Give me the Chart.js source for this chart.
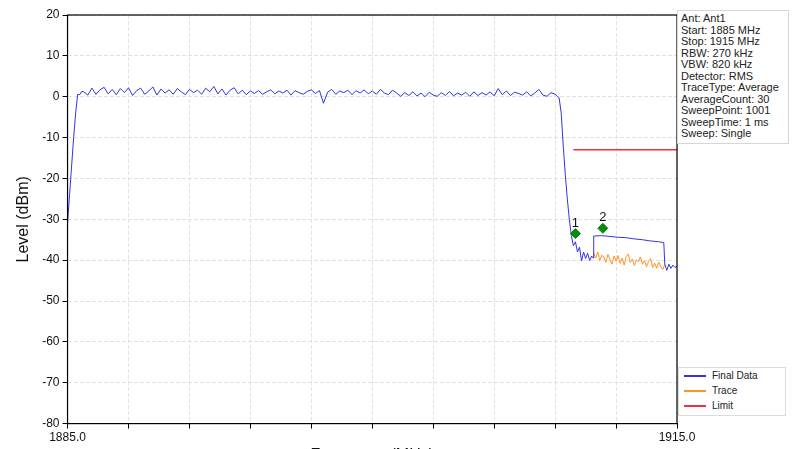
<!DOCTYPE html>
<html>
<head>
<meta charset="utf-8">
<script src="https://cdn.jsdelivr.net/npm/chart.js@4.4.0/dist/chart.umd.min.js"></script>
<style>
  html, body { margin: 0; padding: 0; background: #fff; overflow: hidden; }
  #wrap { position: relative; width: 793px; height: 468px; }
  #info {
    position: absolute; left: 677px; top: 10px; width: 112px;
    border: 1px solid #d6d6d6; background: #fff;
    font: 11px "Liberation Sans", Arial, sans-serif; line-height: 11.5px;
    color: #222; padding: 2px 0 3px 3px; box-sizing: border-box;
  }
  #legend {
    position: absolute; left: 678px; top: 367px; width: 108px; height: 49px;
    border: 1px solid #dcdcdc; background: #fff; box-sizing: border-box;
    font: 10px "Liberation Sans", Arial, sans-serif; color: #222;
  }
  #legend div { position: relative; height: 15px; line-height: 15px; padding-left: 33px; }
  #legend span { position: absolute; left: 5px; top: 7px; width: 22px; height: 2px; }
</style>
</head>
<body>
<div id="wrap">
  <canvas id="graphique" width="793" height="468"></canvas>
  <div id="info"></div>
  <div id="legend"></div>
</div>
<script>
// Données
const infoLines = [
  'Ant: Ant1', 'Start: 1885 MHz', 'Stop: 1915 MHz', 'RBW: 270 kHz', 'VBW: 820 kHz',
  'Detector: RMS', 'TraceType: Average', 'AverageCount: 30', 'SweepPoint: 1001',
  'SweepTime: 1 ms', 'Sweep: Single'
];

const finalFreq = [
  1885.0, 1885.1, 1885.2, 1885.3, 1885.4, 1885.5, 1885.6, 1885.7,
  1885.8, 1886.0, 1886.2, 1886.4, 1886.6, 1886.8, 1887.0, 1887.2, 1887.4, 1887.6,
  1887.8, 1888.0, 1888.2, 1888.4, 1888.6, 1888.8, 1889.0, 1889.2, 1889.4, 1889.6,
  1889.8, 1890.0, 1890.2, 1890.4, 1890.6, 1890.8, 1891.0, 1891.2, 1891.4, 1891.6,
  1891.8, 1892.0, 1892.2, 1892.4, 1892.6, 1892.8, 1893.0,
  1893.2, 1893.4, 1893.6, 1893.8, 1894.0, 1894.2, 1894.4, 1894.6, 1894.8, 1895.0,
  1895.2, 1895.4, 1895.6, 1895.8, 1896.0, 1896.2, 1896.4, 1896.6, 1896.8, 1897.0,
  1897.2, 1897.4, 1897.6, 1897.8, 1898.0, 1898.2, 1898.4, 1898.6, 1898.8, 1899.0,
  1899.2, 1899.4, 1899.6, 1899.8, 1900.0, 1900.2, 1900.4, 1900.6, 1900.8, 1901.0,
  1901.2, 1901.4, 1901.6, 1901.8, 1902.0, 1902.2, 1902.4, 1902.6, 1902.8, 1903.0,
  1903.2, 1903.4, 1903.6, 1903.8, 1904.0, 1904.2, 1904.4, 1904.6, 1904.8, 1905.0,
  1905.2, 1905.4, 1905.6, 1905.8, 1906.0, 1906.2, 1906.4, 1906.6, 1906.8, 1907.0,
  1907.2, 1907.4, 1907.6, 1907.8, 1908.0, 1908.2, 1908.4, 1908.6, 1908.8,
  1909.0, 1909.1, 1909.2, 1909.3, 1909.4, 1909.5, 1909.6, 1909.7, 1909.8, 1909.9,
  1910.0, 1910.1, 1910.2, 1910.3, 1910.4, 1910.5, 1910.6, 1910.7, 1910.8,
  1910.88, 1910.9,
  1911.3, 1911.7, 1912.1, 1912.5, 1912.9, 1913.3, 1913.7, 1914.1, 1914.35,
  1914.4, 1914.5, 1914.6, 1914.7, 1914.8, 1914.9, 1915.0
];
const finalLevel = [
  -31, -24, -17, -10, -4, 0.6, 0.5, 1.3,
  1.2, 0.4, 2.1, 0.6, 1.7, 2.3, 0.7, 1.8, 0.5, 2.0,
  1.0, 2.2, 0.3, 1.5, 2.1, 0.6, 1.4, 2.4, 0.4, 1.9,
  0.9, 1.7, 0.6, 2.0, 1.2, 0.5, 1.8, 1.0, 1.6, 0.6,
  2.1, 1.2, 2.5, 0.7, 1.9, 0.4, 1.6,
  2.2, 0.7, 1.6, 0.5, 1.4, 0.8, 1.5, 0.6, 1.2, 1.7,
  0.7, 1.4, 0.9, 1.6, 0.4, 1.5, 1.0, 0.6, 1.3, 1.7,
  0.8, 1.5, -1.6, 1.1, 1.8, 0.6, 1.4, 1.0, 1.6, 0.5,
  1.5, 0.9, 1.7, 0.7, 1.4, 0.6, 1.8, 0.9, 0.5, 1.6,
  0.9, 0.1, 1.0, 0.3, 1.2, 0.2, 0.9, 0.0, 1.1, 0.4,
  0.1, 1.0, 0.3, 1.3, 0.2, 0.9, 0.4, 1.1, 0.1, 1.2,
  0.3, 1.0, 0.4, 1.2, 0.2, 2.0, 0.5, 1.4, 0.3, 1.1,
  0.8, 0.4, 1.2, 0.2, 0.9, 1.8, 0.4, 0.1, 1.0,
  0.6, 0.2, -0.3, -4, -12, -19, -25, -30, -34, -36.5,
  -35.5, -38, -36.8, -40.2, -38, -39.6, -38.3, -40.1, -39,
  -39.5, -34.1,
  -34.0, -34.2, -34.4, -34.5, -34.8, -35.0, -35.3, -35.5, -35.7,
  -41, -42.5, -41, -42, -41.2, -41.8, -41.5
];

const traceFreq = [
  1910.9, 1911.0, 1911.1, 1911.2, 1911.3, 1911.4, 1911.5, 1911.6, 1911.7, 1911.8,
  1911.9, 1912.0, 1912.1, 1912.2, 1912.3, 1912.4, 1912.5, 1912.6, 1912.7, 1912.8,
  1912.9, 1913.0, 1913.1, 1913.2, 1913.3, 1913.4, 1913.5, 1913.6, 1913.7, 1913.8,
  1913.9, 1914.0, 1914.1, 1914.2, 1914.3, 1914.4
];
const traceLevel = [
  -38.2, -39.5, -38.0, -40.1, -38.8, -39.2, -40.5, -38.6, -39.8, -41.0,
  -39.0, -40.2, -38.9, -40.8, -39.5, -41.2, -39.1, -38.5, -40.6, -39.7,
  -41.3, -39.9, -40.4, -39.2, -41.0, -40.1, -41.6, -40.3, -39.6, -41.8,
  -40.7, -42.0, -40.5, -41.5, -42.3, -41.0
];

const limitFreq = [1909.9, 1915.0];
const limitLevel = [-13, -13];

const markerFreq = [1910.0, 1911.35];
const markerLevel = [-33.5, -32.2];
const markerLabels = ['1', '2'];

const couleurs = { final: '#3434e0', trace: '#ff9326', limit: '#f2303c', marker: '#0a8a0a' };

function points(xs, ys) {
  return xs.map((x, i) => ({ x: x, y: ys[i] }));
}

// Infos et légende
document.getElementById('info').innerHTML = infoLines.map(l => '<div>' + l + '</div>').join('');
document.getElementById('legend').innerHTML = [
  ['Final Data', couleurs.final], ['Trace', couleurs.trace], ['Limit', couleurs.limit]
].map(e => '<div><span style="background:' + e[1] + '"></span>' + e[0] + '</div>').join('');

// Cadre + numéros des marqueurs
const cadre = {
  id: 'cadre',
  afterDraw(chart) {
    const a = chart.chartArea, ctx = chart.ctx;
    ctx.save();
    ctx.strokeStyle = '#000';
    ctx.lineWidth = 1.2;
    ctx.strokeRect(a.left, a.top, a.right - a.left, a.bottom - a.top);
    ctx.fillStyle = '#111';
    ctx.font = '13px "Liberation Sans", Arial, sans-serif';
    ctx.textAlign = 'center';
    ctx.textBaseline = 'bottom';
    markerLabels.forEach((t, i) => {
      const x = chart.scales.x.getPixelForValue(markerFreq[i]);
      const y = chart.scales.y.getPixelForValue(markerLevel[i]);
      ctx.fillText(t, x, y - 4);
    });
    ctx.restore();
  }
};

const police = { family: '"Liberation Sans", Arial, sans-serif', size: 12 };

new Chart(document.getElementById('graphique'), {
  type: 'scatter',
  data: {
    datasets: [
      { label: 'Markers', data: points(markerFreq, markerLevel), showLine: false,
        pointStyle: 'rectRot', pointRadius: 5, backgroundColor: couleurs.marker, borderColor: couleurs.marker },
      { label: 'Final Data', data: points(finalFreq, finalLevel), showLine: true,
        borderColor: couleurs.final, borderWidth: 1, pointRadius: 0, tension: 0 },
      { label: 'Trace', data: points(traceFreq, traceLevel), showLine: true,
        borderColor: couleurs.trace, borderWidth: 1, pointRadius: 0, tension: 0 },
      { label: 'Limit', data: points(limitFreq, limitLevel), showLine: true,
        borderColor: couleurs.limit, borderWidth: 1.5, pointRadius: 0 }
    ]
  },
  options: {
    responsive: false,
    animation: false,
    layout: { padding: { left: 10, right: 116, top: 15, bottom: 0 } },
    plugins: { legend: { display: false }, tooltip: { enabled: false } },
    scales: {
      x: {
        type: 'linear', min: 1885, max: 1915,
        ticks: {
          stepSize: 3, autoSkip: false, maxRotation: 0, color: '#111', font: police, padding: 2,
          callback: v => (v === 1885 || v === 1915) ? v.toFixed(1) : ''
        },
        grid: { color: '#e2e2e2', tickColor: '#000', tickLength: 5, tickBorderDash: [] },
        border: { display: true, color: '#000', dash: [4, 2] },
        title: { display: true, text: 'Frequency (MHz)', color: '#111',
          font: { family: police.family, size: 16, lineHeight: 1 }, padding: { top: 1, bottom: 4 } }
      },
      y: {
        min: -80, max: 20,
        ticks: { stepSize: 10, color: '#111', font: police, padding: 3 },
        grid: { color: '#e2e2e2', tickColor: '#000', tickLength: 5, tickBorderDash: [] },
        border: { display: true, color: '#000', dash: [4, 2] },
        title: { display: true, text: 'Level (dBm)', color: '#111',
          font: { family: police.family, size: 16 }, padding: { bottom: 6 } }
      }
    }
  },
  plugins: [cadre]
});
</script>
</body>
</html>
